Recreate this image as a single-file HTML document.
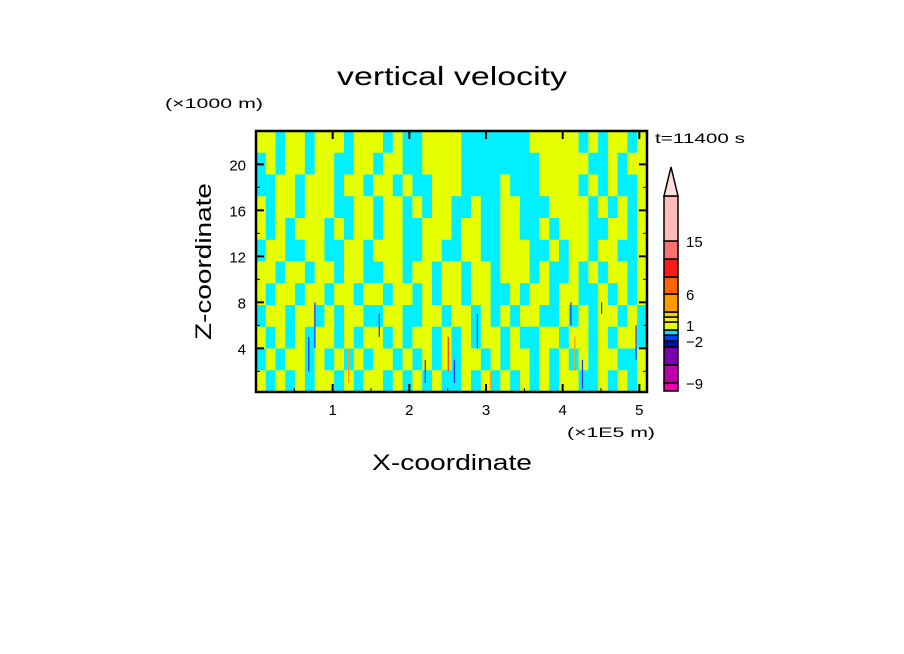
<!DOCTYPE html>
<html><head><meta charset="utf-8"><style>
body{margin:0;background:#fff;}
svg{display:block;font-family:"Liberation Sans",sans-serif;}
</style></head><body>
<svg id="chart" width="904" height="654" viewBox="0 0 904 654">
<text x="337" y="85" font-size="26" textLength="230" lengthAdjust="spacingAndGlyphs" fill="#000">vertical velocity</text>
<text x="165" y="108" font-size="14" textLength="98" lengthAdjust="spacingAndGlyphs" fill="#000">(×1000 m)</text>
<text x="655" y="143" font-size="14" textLength="90" lengthAdjust="spacingAndGlyphs" fill="#000">t=11400 s</text>
<text x="567" y="437" font-size="14" textLength="88" lengthAdjust="spacingAndGlyphs" fill="#000">(×1E5 m)</text>
<text x="372" y="470" font-size="22" textLength="160" lengthAdjust="spacingAndGlyphs" fill="#000">X-coordinate</text>
<text transform="translate(211,340) rotate(-90)" font-size="22" textLength="157" lengthAdjust="spacingAndGlyphs" fill="#000">Z-coordinate</text>
<g id="field"></g>
<g id="axes"></g>
<g id="cbar"></g>
</svg>
<script>
const xMin=0, xMax=5.1, zMin=0.2, zMax=22.9;
const rows=[
"yycyycyyycyyycyccyyyycccccccyyyyycycyycy",
"cycyycyyccyycyyccyyyyccccccccyyyyyccycyy",
"ccyycyyycyycyycyccyyyccccycccyyyycycyccy",
"ycyycyyyccyycyycycyyccyccyycccyyyycycycy",
"ycycyyycycyycyyccyyycyyccyyccycyyyccyycy",
"cyyccyyccyycyyyccyyccyyccyyyccycyycyyccy",
"yycyycyycyyccyycyycyycyycyyycyccycycyycy",
"ycyycyycyycyycyycycyycyyccycyycyyccycycy",
"cyycyycycyyccyyccyycyycycycyyccycycyycyc",
"ycycycyycycyycycyycycycyycyccyycyycycyyc",
"cycyycycycycyycycycycyycycyycycycycyyccy",
"ycycycyycycyycycycyccycycycycycyyccycycy"
];
const cellColor={y:"#e6ff00",c:"#00f0ff"};
const streakX=[0.68,0.76,1.2,1.6,2.2,2.5,2.58,2.88,3.05,4.1,4.15,4.25,4.5,4.95];
const streakZ0=[2,4,1,5,1,2,1,4,0.5,6,2,0.5,7,3];
const streakZ1=[5,8,4,7,3,5,3,7,2,8,5,3,8,6];
const streakVal=[-3,-3,6,-3,-3,15,-3,-3,6,-3,6,-3,-3,-3];
const xTicks=[1,2,3,4,5];
const zTicks=[4,8,12,16,20];
const cbLevels=[-9,-2,1,6,15];
const cbColors=["#ee00aa","#bb00aa","#7700aa","#0a10a0","#0040ff","#00e0ff","#e6ff00","#ffee00","#ffd000","#ff9900","#ff6600","#ff1a1a","#ff7070","#ffbbbb"];
const cbHeights=[8,18,18,6,6,5,8,5,5,18,17,18,18,45];
const L=256,R=647,T=131,B=392;
const sx=v=>L+(v-xMin)/(xMax-xMin)*(R-L);
const sz=v=>B-(v-zMin)/(zMax-zMin)*(B-T);
const NS="http://www.w3.org/2000/svg";
function mk(tag,attrs,parent){const e=document.createElementNS(NS,tag);for(const k in attrs)e.setAttribute(k,attrs[k]);parent.appendChild(e);return e;}
const field=document.getElementById('field');
const nr=rows.length, nc=rows[0].length;
rows.forEach((row,i)=>{
  for(let j=0;j<nc;j++){
    const x0=xMin+(xMax-xMin)*j/nc, x1=xMin+(xMax-xMin)*(j+1)/nc;
    const z1=zMax-(zMax-zMin)*i/nr, z0=zMax-(zMax-zMin)*(i+1)/nr;
    const r=mk('rect',{x:sx(x0),y:sz(z1),width:sx(x1)-sx(x0)+0.5,height:sz(z0)-sz(z1)+0.5,fill:cellColor[row[j]]},field);
    
    
  }
});
function valColor(v){return v<0?"#2030ff":(v>10?"#ff3030":"#ffa000");}
streakX.forEach((x,i)=>{
  const r=mk('rect',{x:sx(x),y:sz(streakZ1[i]),width:1.2,height:sz(streakZ0[i])-sz(streakZ1[i]),fill:valColor(streakVal[i])},field);
  
  
});
const axes=document.getElementById('axes');
const frame=mk('rect',{x:L,y:T,width:R-L,height:B-T,fill:"none",stroke:"#000","stroke-width":2.5},axes);


xTicks.forEach(v=>{
  mk('line',{x1:sx(v),x2:sx(v),y1:B,y2:B-8,stroke:"#000","stroke-width":2},axes);
  mk('line',{x1:sx(v),x2:sx(v),y1:T,y2:T+8,stroke:"#000","stroke-width":2},axes);
  mk('line',{x1:sx(v-0.5),x2:sx(v-0.5),y1:B,y2:B-4,stroke:"#000","stroke-width":1},axes);
  const t=mk('text',{x:sx(v),y:B+23,"font-size":15,"text-anchor":"middle"},axes);t.textContent=v;
  
  
});
zTicks.forEach(v=>{
  mk('line',{x1:L,x2:L+8,y1:sz(v),y2:sz(v),stroke:"#000","stroke-width":2},axes);
  mk('line',{x1:R,x2:R-8,y1:sz(v),y2:sz(v),stroke:"#000","stroke-width":2},axes);
  mk('line',{x1:L,x2:L+4,y1:sz(v-2),y2:sz(v-2),stroke:"#000","stroke-width":1},axes);
  mk('line',{x1:R,x2:R-4,y1:sz(v-2),y2:sz(v-2),stroke:"#000","stroke-width":1},axes);
  const t=mk('text',{x:L-10,y:sz(v)+6,"font-size":15,"text-anchor":"end"},axes);t.textContent=v;
  
  
});
const cb=document.getElementById('cbar');
let y=391; const cx=664,cw=14;
cbColors.forEach((c,i)=>{
  const h=cbHeights[i]; y-=h;
  const r=mk('rect',{x:cx,y:y,width:cw,height:h,fill:c,stroke:"#000","stroke-width":1.5},cb);
  
  
});
const tri=mk('polygon',{points:`${cx},${y} ${cx+cw},${y} ${cx+7},167`,fill:"#ffdddd",stroke:"#000","stroke-width":1.5},cb);


const labelY=[383,341,325,294,241];
cbLevels.forEach((v,i)=>{
  const t=mk('text',{x:686,y:labelY[i]+6,"font-size":15},cb);
  t.textContent=v<0?"\u2212"+(-v):v;
  
  
});
</script>
</body></html>
